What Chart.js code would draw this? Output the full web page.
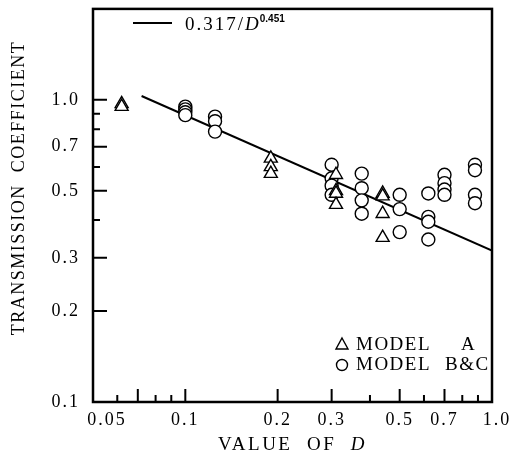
<!DOCTYPE html>
<html>
<head>
<meta charset="utf-8">
<script src="https://cdn.jsdelivr.net/npm/chart.js@4.4.0/dist/chart.umd.min.js"></script>
<style>
    html, body { margin: 0; background: #fff; }
</style>
</head>
<body>
<canvas id="chart" width="524" height="460"></canvas>
<script>
// values
const modelA_D = [0.062, 0.062, 0.19, 0.19, 0.19, 0.31, 0.31, 0.31, 0.31, 0.44, 0.44, 0.44, 0.44];
const modelA_T = [0.97, 0.95, 0.64, 0.60, 0.57, 0.565, 0.50, 0.49, 0.45, 0.49, 0.48, 0.42, 0.35];

const modelBC_D = [0.1, 0.1, 0.1, 0.1, 0.125, 0.125, 0.125,
                   0.3, 0.3, 0.3, 0.3, 0.376, 0.376, 0.376, 0.376,
                   0.5, 0.5, 0.5, 0.62, 0.62, 0.62, 0.62,
                   0.7, 0.7, 0.7, 0.7, 0.88, 0.88, 0.88, 0.88];
const modelBC_T = [0.95, 0.93, 0.91, 0.89, 0.88, 0.85, 0.785,
                   0.61, 0.55, 0.52, 0.485, 0.57, 0.51, 0.465, 0.42,
                   0.485, 0.435, 0.365, 0.49, 0.41, 0.395, 0.345,
                   0.565, 0.53, 0.505, 0.485, 0.61, 0.585, 0.485, 0.455];

// fitted line 0.317/D^0.451, end points as drawn
const fitD = [0.072, 1.0];
const fitT = [1.03, 0.317];

const xTickVals = [0.06, 0.07, 0.08, 0.09, 0.1, 0.2, 0.3, 0.4, 0.5, 0.6, 0.7, 0.8, 0.9];
const xLabelVals = [0.05, 0.1, 0.2, 0.3, 0.5, 0.7, 1.0];
const xLabels = ['0.05', '0.1', '0.2', '0.3', '0.5', '0.7', '1.0'];
const yTickVals = [0.2, 0.3, 0.4, 0.5, 0.6, 0.7, 0.8, 0.9, 1.0];
const yLabelVals = [0.1, 0.2, 0.3, 0.5, 0.7, 1.0];
const yLabels = ['0.1', '0.2', '0.3', '0.5', '0.7', '1.0'];

const SERIF = '"Liberation Serif", "DejaVu Serif", serif';
const toXY = (xs, ys) => xs.map((v, i) => ({ x: v, y: ys[i] }));

// frame, inward ticks, x labels, titles and legends
const decorations = {
    id: 'decorations',
    beforeDraw(chart) {
        chart.ctx.letterSpacing = '2px';
    },
    afterDraw(chart) {
        const { ctx, chartArea: a, scales: { x, y } } = chart;
        ctx.save();
        ctx.strokeStyle = '#000';
        ctx.fillStyle = '#000';

        // plot frame
        ctx.lineWidth = 2.5;
        ctx.strokeRect(a.left, a.top, a.right - a.left, a.bottom - a.top);

        // ticks pointing into the plot
        ctx.lineWidth = 2;
        ctx.beginPath();
        xTickVals.forEach(v => {
            const px = x.getPixelForValue(v);
            const len = (xLabelVals.includes(v) || v === 0.07) ? 13 : 7;
            ctx.moveTo(px, a.bottom);
            ctx.lineTo(px, a.bottom - len);
        });
        yTickVals.forEach(v => {
            const py = y.getPixelForValue(v);
            const len = yLabelVals.includes(v) ? 14 : 7;
            ctx.moveTo(a.left, py);
            ctx.lineTo(a.left + len, py);
        });
        ctx.stroke();

        // x tick labels
        ctx.font = '18px ' + SERIF;
        ctx.letterSpacing = '2px';
        ctx.textAlign = 'center';
        ctx.textBaseline = 'middle';
        xLabelVals.forEach((v, i) => {
            let px = x.getPixelForValue(v);
            if (i === 0) px += 14;
            if (i === xLabelVals.length - 1) px += 5;
            ctx.fillText(xLabels[i], px, 420);
        });

        // y title
        ctx.save();
        ctx.translate(19, 188);
        ctx.rotate(-Math.PI / 2);
        ctx.letterSpacing = '1.5px';
        ctx.font = '18px ' + SERIF;
        ctx.fillText('TRANSMISSION  COEFFICIENT', 0, 0);
        ctx.restore();

        // x title, D in italics
        ctx.textAlign = 'left';
        ctx.letterSpacing = '2.5px';
        ctx.font = '19px ' + SERIF;
        const t1 = 'VALUE  OF  ';
        const w1 = ctx.measureText(t1).width;
        ctx.font = 'italic 19px ' + SERIF;
        const w2 = ctx.measureText('D').width;
        const sx = (a.left + a.right) / 2 - (w1 + w2) / 2;
        ctx.font = '19px ' + SERIF;
        ctx.fillText(t1, sx, 445);
        ctx.font = 'italic 19px ' + SERIF;
        ctx.fillText('D', sx + w1, 445);

        // fit legend at top
        ctx.lineWidth = 2;
        ctx.beginPath();
        ctx.moveTo(133, 23);
        ctx.lineTo(172, 23);
        ctx.stroke();
        ctx.textBaseline = 'alphabetic';
        ctx.letterSpacing = '2px';
        ctx.font = '19px ' + SERIF;
        ctx.fillText('0.317/', 185, 30);
        let lx = 185 + ctx.measureText('0.317/').width;
        ctx.font = 'italic 19px ' + SERIF;
        ctx.fillText('D', lx, 30);
        lx += ctx.measureText('D').width - 1;
        ctx.letterSpacing = '0px';
        ctx.font = 'bold 10px "Liberation Sans", sans-serif';
        ctx.fillText('0.451', lx, 22);

        // marker legend, lower right
        ctx.lineWidth = 1.4;
        ctx.beginPath();
        ctx.moveTo(342, 338);
        ctx.lineTo(348, 349);
        ctx.lineTo(336, 349);
        ctx.closePath();
        ctx.stroke();
        ctx.beginPath();
        ctx.arc(342, 365, 5.5, 0, Math.PI * 2);
        ctx.stroke();
        ctx.textBaseline = 'middle';
        ctx.letterSpacing = '1.5px';
        ctx.font = '19px ' + SERIF;
        ctx.fillText('MODEL', 356, 345);
        ctx.fillText('A', 461, 345);
        ctx.fillText('MODEL', 356, 365);
        ctx.fillText('B&C', 445, 365);

        ctx.restore();
    }
};

new Chart(document.getElementById('chart'), {
    type: 'scatter',
    data: {
        datasets: [
            {
                label: 'MODEL A',
                data: toXY(modelA_D, modelA_T),
                pointStyle: 'triangle',
                pointRadius: 7.5,
                borderColor: '#000',
                backgroundColor: '#fff',
                borderWidth: 1.4
            },
            {
                label: 'MODEL B&C',
                data: toXY(modelBC_D, modelBC_T),
                pointStyle: 'circle',
                pointRadius: 6.5,
                borderColor: '#000',
                backgroundColor: '#fff',
                borderWidth: 1.4
            },
            {
                type: 'line',
                label: '0.317/D^0.451',
                data: toXY(fitD, fitT),
                borderColor: '#000',
                borderWidth: 2,
                pointRadius: 0,
                order: 10
            }
        ]
    },
    options: {
        responsive: false,
        animation: false,
        events: [],
        layout: {
            padding: { top: 7, right: 32, bottom: 58, left: 0 }
        },
        plugins: {
            legend: { display: false },
            tooltip: { enabled: false }
        },
        scales: {
            x: {
                type: 'logarithmic',
                min: 0.05,
                max: 1.0,
                display: false
            },
            y: {
                type: 'logarithmic',
                min: 0.1,
                max: 2.0,
                afterFit: scale => {
                    scale.width = 93;
                    scale.paddingTop = 0;
                    scale.paddingBottom = 0;
                },
                afterBuildTicks: scale => {
                    scale.ticks = yLabelVals.map(v => ({ value: v }));
                },
                grid: { display: false },
                border: { display: false },
                ticks: {
                    autoSkip: false,
                    padding: 5,
                    color: '#000',
                    font: { family: SERIF, size: 18 },
                    callback: value => yLabels[yLabelVals.indexOf(value)]
                }
            }
        }
    },
    plugins: [decorations]
});
</script>
</body>
</html>
